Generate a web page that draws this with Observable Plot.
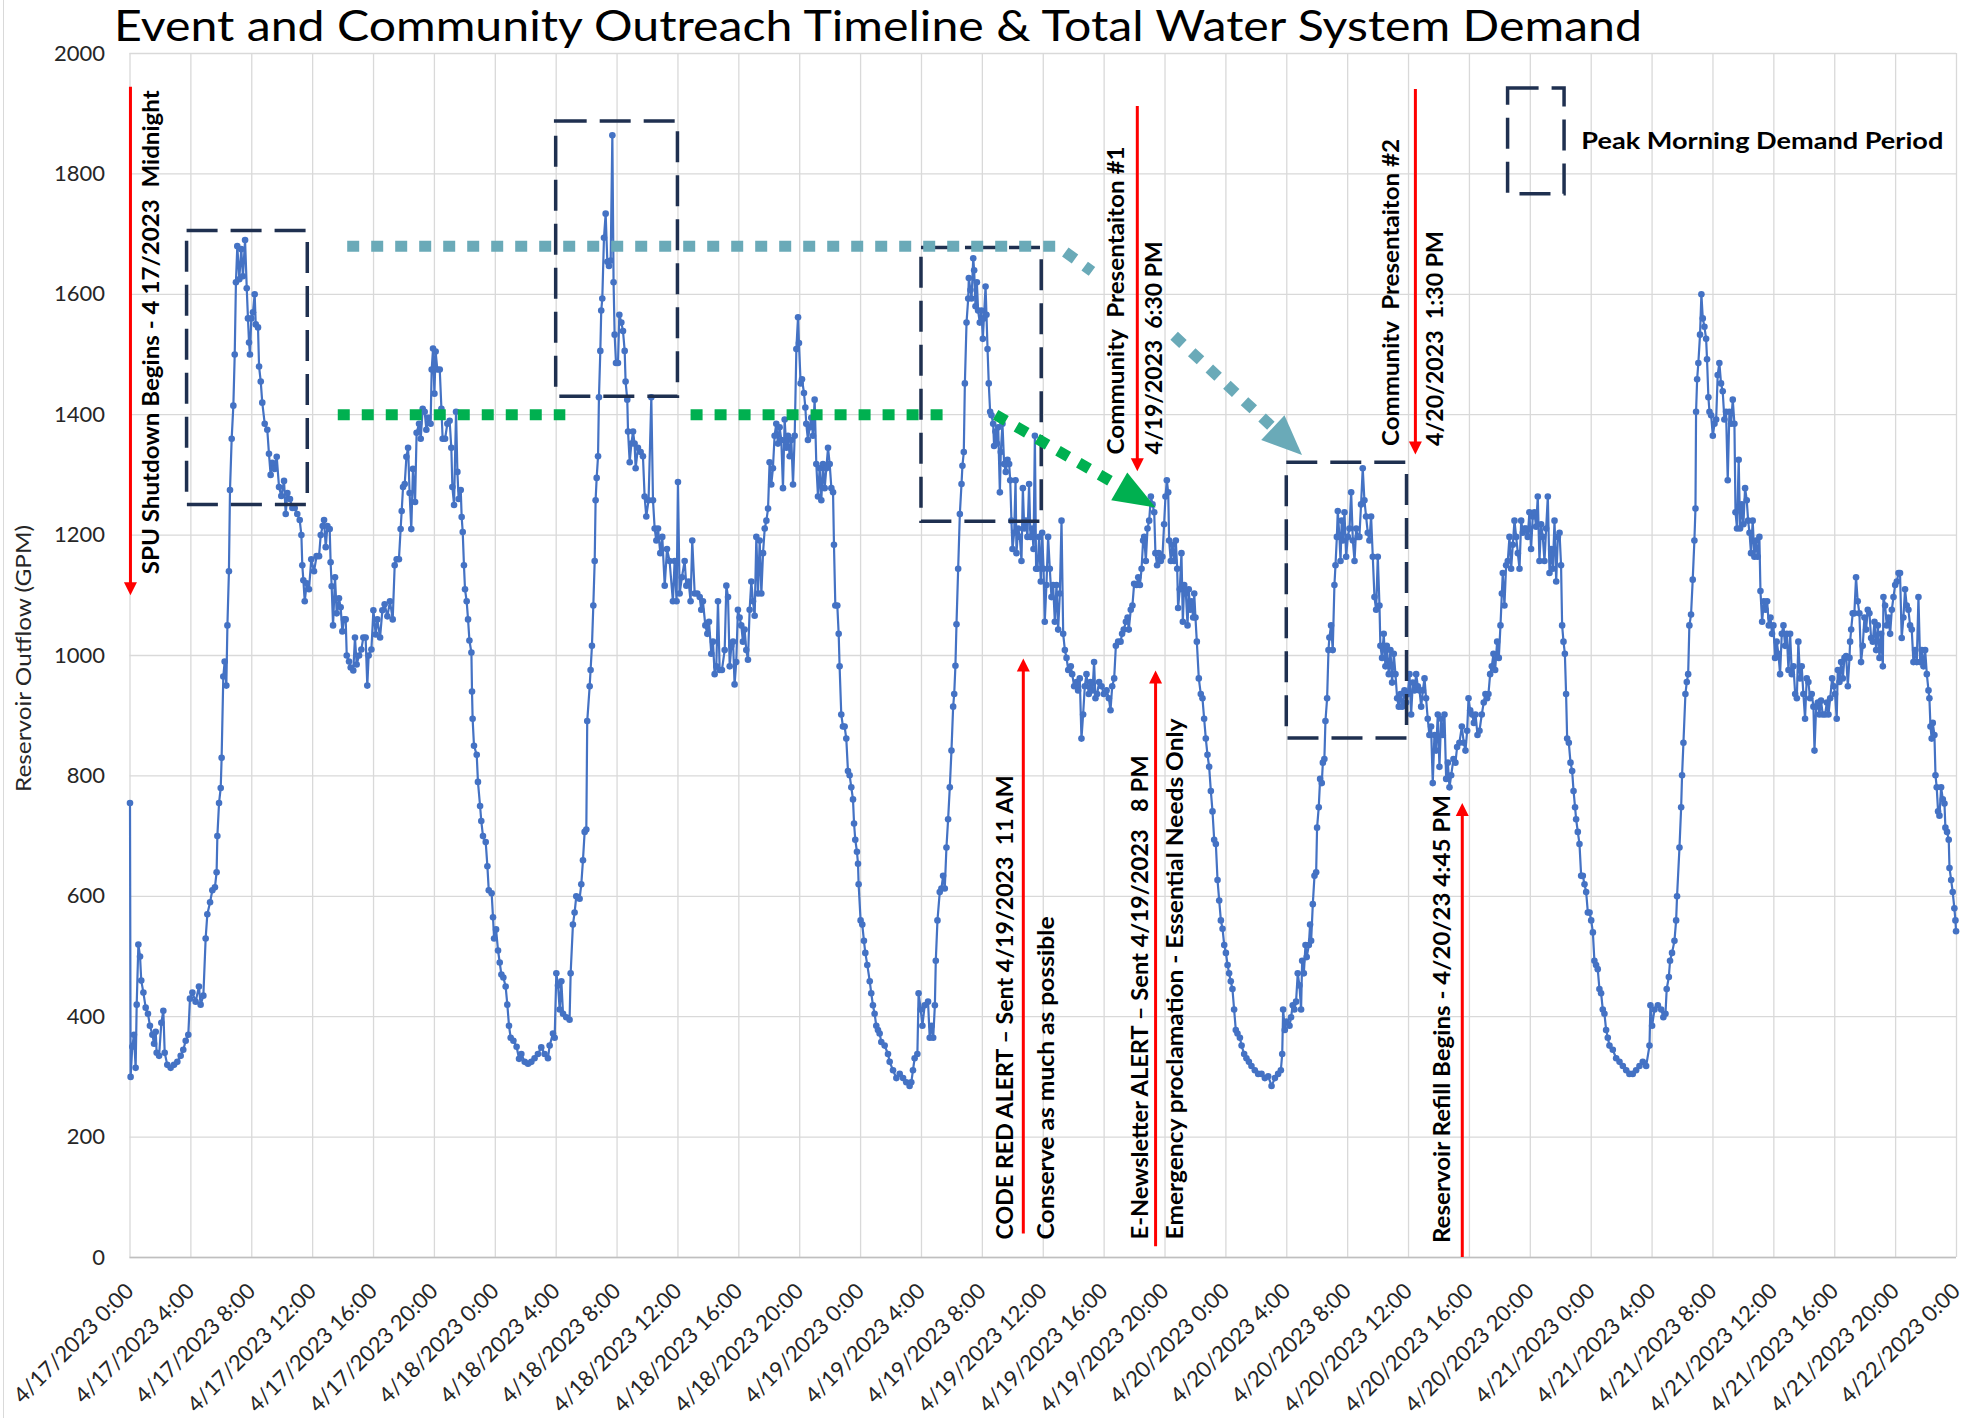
<!DOCTYPE html>
<html>
<head>
<meta charset="utf-8">
<script src="https://cdn.jsdelivr.net/npm/d3@7"></script>
<script src="https://cdn.jsdelivr.net/npm/@observablehq/plot@0.6"></script>
<style>
  body { margin: 0; background: #fff; }
  #wrap { position: relative; width: 1972px; height: 1418px; background: #fff; overflow: hidden; }
  #title { height: 52px; padding-left: 114px; font-family: Lato, sans-serif; font-size: 42px; line-height: 50.4px; white-space: nowrap; color: #000; }
  #title span { display: inline-block; transform-origin: 0 0; }
  #border { position: absolute; left: 3px; top: 0; width: 0; height: 1418px; border-left: 1px solid #d9d9d9; }
  svg text { white-space: pre; }
</style>
</head>
<body>
<div id="wrap">
  <div id="border"></div>
  <div id="title"><span>Event and Community Outreach Timeline &amp; Total Water System Demand</span></div>
</div>
<script>
// ---------- DATA (hours after 4/17/2023 0:00, reservoir outflow GPM) ----------
const apr17 = [[0.00,755],[0.04,300],[0.15,350],[0.26,370],[0.37,315],[0.44,420],[0.55,520],[0.66,500],[0.74,460],[0.88,440],[1.03,415],[1.18,405],[1.31,385],[1.47,370],[1.58,355],[1.69,375],[1.75,340],[1.91,335],[2.06,390],[2.19,410],[2.28,340],[2.45,320],[2.67,315],[2.89,320],[3.11,325],[3.33,335],[3.50,345],[3.66,360],[3.83,370],[3.94,430],[4.10,440],[4.31,425],[4.53,450],[4.64,420],[4.82,435],[4.97,530],[5.08,570],[5.26,590],[5.41,610],[5.58,615],[5.69,640],[5.74,700],[5.85,755],[5.96,780],[6.02,830],[6.13,965],[6.22,990],[6.33,950],[6.40,1050],[6.50,1140],[6.57,1275],[6.68,1360],[6.79,1415],[6.88,1500],[6.96,1620],[7.05,1680],[7.18,1625],[7.31,1675],[7.42,1630],[7.56,1690],[7.67,1610],[7.75,1560],[7.82,1520],[7.88,1500],[7.97,1560],[8.08,1570],[8.19,1600],[8.26,1550],[8.41,1545],[8.48,1480],[8.59,1455],[8.69,1420],[8.85,1385],[9.02,1375],[9.13,1335],[9.24,1300],[9.35,1320],[9.50,1310],[9.64,1330],[9.79,1280],[9.94,1265],[10.12,1290],[10.23,1235],[10.34,1270],[10.51,1260],[10.67,1245],[10.82,1245],[10.99,1235],[11.15,1225],[11.26,1200],[11.32,1150],[11.39,1125],[11.48,1090],[11.61,1120],[11.76,1110],[11.91,1160],[12.09,1140],[12.26,1165],[12.42,1165],[12.53,1200],[12.66,1215],[12.75,1225],[12.86,1180],[12.97,1215],[13.12,1210],[13.18,1155],[13.25,1115],[13.34,1050],[13.47,1130],[13.58,1070],[13.73,1095],[13.84,1080],[13.95,1040],[14.06,1060],[14.17,1060],[14.24,1000],[14.39,990],[14.50,980],[14.67,975],[14.78,1030],[14.89,985],[15.05,1000],[15.20,1010],[15.33,1030],[15.48,1030],[15.59,950],[15.68,1000],[15.86,1010],[15.99,1075],[16.14,1035],[16.25,1060],[16.43,1030],[16.58,1075],[16.73,1085],[16.91,1065],[17.08,1090],[17.26,1060],[17.39,1150],[17.52,1160],[17.67,1160],[17.78,1210],[17.85,1240],[17.94,1280],[18.05,1285],[18.16,1330],[18.27,1345],[18.37,1270],[18.48,1210],[18.59,1310],[18.73,1255],[18.83,1370],[18.99,1385],[19.10,1360],[19.23,1410],[19.36,1405],[19.47,1375],[19.60,1395],[19.75,1385],[19.82,1475],[19.91,1510],[20.00,1435],[20.08,1505],[20.19,1475],[20.35,1475],[20.46,1410],[20.54,1360],[20.70,1360],[20.85,1385],[21.00,1390],[21.11,1345],[21.18,1280],[21.29,1250],[21.42,1405],[21.51,1305],[21.59,1260],[21.73,1275],[21.79,1230],[21.86,1205],[21.94,1150],[22.01,1110],[22.12,1090],[22.21,1060],[22.30,1025],[22.43,1005],[22.47,940],[22.51,895],[22.60,850],[22.78,835],[22.86,790],[23.00,750],[23.08,725],[23.19,700],[23.37,690],[23.48,650],[23.57,610],[23.76,605],[23.85,565],[23.92,530],[24.05,545],[24.18,510],[24.29,490],[24.40,470],[24.53,465],[24.68,450],[24.79,420],[24.90,385],[25.01,365],[25.19,360],[25.40,350],[25.56,330]];

const apr18 = [[25.71,338],[25.93,325],[26.15,322],[26.37,325],[26.58,331],[26.80,338],[27.02,349],[27.24,338],[27.46,331],[27.57,352],[27.79,372],[27.90,365],[28.01,472],[28.12,452],[28.23,412],[28.34,459],[28.45,405],[28.66,399],[28.88,395],[28.95,472],[29.10,553],[29.21,573],[29.32,600],[29.54,596],[29.65,620],[29.76,660],[29.87,707],[29.98,711],[30.04,891],[30.20,949],[30.26,976],[30.35,1016],[30.44,1083],[30.53,1157],[30.59,1258],[30.66,1295],[30.75,1331],[30.81,1429],[30.90,1506],[30.96,1573],[31.03,1593],[31.14,1694],[31.25,1734],[31.36,1654],[31.47,1647],[31.58,1656],[31.69,1864],[31.77,1620],[31.84,1533],[31.93,1486],[32.06,1486],[32.15,1566],[32.28,1553],[32.39,1539],[32.50,1506],[32.56,1455],[32.67,1425],[32.72,1372],[32.83,1321],[32.94,1352],[33.05,1372],[33.15,1352],[33.22,1311],[33.37,1345],[33.55,1338],[33.70,1331],[33.81,1264],[33.92,1231],[34.07,1258],[34.25,1429],[34.36,1258],[34.47,1211],[34.58,1191],[34.69,1211],[34.84,1170],[34.97,1197],[35.13,1116],[35.28,1177],[35.45,1157],[35.67,1090],[35.78,1157],[35.91,1090],[36.00,1288],[36.11,1103],[36.26,1130],[36.44,1157],[36.55,1116],[36.70,1123],[36.83,1090],[36.94,1191],[37.10,1103],[37.27,1103],[37.43,1097],[37.53,1076],[37.64,1090],[37.80,1050],[37.93,1036],[38.04,1056],[38.19,1003],[38.30,1023],[38.41,969],[38.52,982],[38.63,1090],[38.74,976],[38.89,976],[39.07,1009],[39.18,1116],[39.29,1097],[39.40,982],[39.51,1016],[39.62,1023],[39.72,952],[39.83,989],[39.94,1076],[40.05,1063],[40.16,1050],[40.27,1023],[40.38,1043],[40.49,1009],[40.60,993],[40.71,1076],[40.82,1123],[40.93,1090],[41.04,1066],[41.15,1197],[41.26,1103],[41.37,1191],[41.48,1103],[41.59,1170],[41.70,1211],[41.81,1224],[41.92,1244],[42.02,1321],[42.13,1284],[42.24,1311],[42.35,1365],[42.46,1385],[42.57,1352],[42.68,1379],[42.79,1358],[42.90,1278],[43.01,1392],[43.12,1345],[43.23,1365],[43.34,1331],[43.45,1358],[43.56,1284],[43.67,1365],[43.78,1509],[43.89,1562],[43.95,1519],[44.06,1452],[44.15,1459],[44.28,1436],[44.37,1412],[44.43,1385],[44.54,1358],[44.65,1379],[44.76,1395],[44.87,1365],[44.98,1425],[45.09,1318],[45.20,1264],[45.31,1311],[45.42,1258],[45.53,1318],[45.64,1278],[45.75,1311],[45.86,1345],[45.97,1318],[46.08,1278],[46.19,1271],[46.25,1184],[46.34,1083],[46.47,1083],[46.56,1036],[46.62,982],[46.73,902],[46.84,882],[46.95,882],[47.06,862],[47.17,808],[47.28,801],[47.39,781],[47.50,761],[47.57,721],[47.65,694],[47.76,674],[47.83,654],[47.87,620],[48.00,560],[48.11,553],[48.22,526],[48.31,506],[48.44,486],[48.60,459],[48.70,439],[48.81,419],[48.92,405],[49.03,385],[49.14,378],[49.25,372],[49.36,358],[49.58,352],[49.80,338],[49.91,325],[50.13,311],[50.35,298],[50.57,305],[50.79,298],[51.00,291],[51.22,285],[51.33,291],[51.44,311],[51.55,331],[51.73,338],[51.81,439],[51.95,412],[52.06,385],[52.21,419],[52.43,425],[52.54,365]];

const apr19 = [[52.66,385],[52.77,365],[52.88,419],[52.94,493],[53.05,560],[53.20,607],[53.31,613],[53.42,634],[53.53,613],[53.64,681],[53.75,728],[53.86,781],[53.97,842],[54.08,915],[54.15,936],[54.23,983],[54.30,1052],[54.41,1144],[54.52,1235],[54.63,1285],[54.69,1315],[54.78,1338],[54.85,1452],[54.96,1553],[55.07,1593],[55.11,1627],[55.22,1607],[55.29,1593],[55.40,1660],[55.46,1640],[55.55,1580],[55.64,1620],[55.72,1573],[55.83,1553],[55.94,1573],[56.03,1526],[56.10,1560],[56.21,1613],[56.27,1566],[56.34,1509],[56.42,1452],[56.51,1405],[56.60,1399],[56.71,1385],[56.77,1348],[56.86,1372],[56.95,1352],[57.04,1379],[57.15,1271],[57.21,1338],[57.32,1385],[57.43,1318],[57.54,1305],[57.65,1325],[57.76,1318],[57.83,1291],[57.91,1224],[57.98,1177],[58.09,1204],[58.18,1291],[58.24,1170],[58.35,1211],[58.46,1197],[58.57,1157],[58.66,1278],[58.75,1211],[58.86,1224],[58.96,1197],[59.07,1285],[59.16,1197],[59.27,1211],[59.36,1177],[59.45,1365],[59.53,1144],[59.62,1144],[59.73,1197],[59.84,1123],[59.93,1204],[60.02,1144],[60.10,1056],[60.21,1117],[60.32,1197],[60.43,1144],[60.54,1097],[60.65,1117],[60.76,1056],[60.87,1117],[60.98,1043],[61.09,1103],[61.20,1224],[61.31,1036],[61.42,1009],[61.53,996],[61.64,976],[61.81,982],[61.90,969],[62.03,949],[62.18,956],[62.29,942],[62.40,962],[62.51,862],[62.62,902],[62.73,949],[62.84,969],[62.99,936],[63.10,956],[63.24,942],[63.34,989],[63.43,929],[63.54,936],[63.67,956],[63.83,949],[63.98,936],[64.16,942],[64.31,929],[64.42,909],[64.53,949],[64.66,962],[64.77,1016],[64.92,1023],[65.08,1023],[65.18,1036],[65.29,1043],[65.43,1056],[65.54,1063],[65.62,1043],[65.75,1076],[65.86,1083],[65.97,1119],[66.13,1117],[66.24,1130],[66.35,1117],[66.46,1144],[66.56,1191],[66.63,1197],[66.74,1157],[66.85,1211],[66.96,1224],[67.07,1264],[67.18,1251],[67.29,1238],[67.37,1170],[67.48,1150],[67.59,1170],[67.72,1157],[67.83,1164],[67.94,1218],[68.03,1264],[68.12,1291],[68.21,1271],[68.27,1191],[68.38,1157],[68.49,1184],[68.60,1157],[68.71,1191],[68.80,1144],[68.86,1079],[68.97,1110],[69.08,1170],[69.17,1056],[69.26,1117],[69.37,1103],[69.48,1050],[69.56,1110],[69.65,1076],[69.74,1090],[69.85,1063],[69.92,1103],[70.00,1063],[70.09,1023],[70.22,962],[70.35,936],[70.46,929],[70.57,895],[70.68,862],[70.79,835],[70.90,815],[71.01,775],[71.12,741],[71.23,694],[71.34,687],[71.45,627],[71.56,593],[71.67,560],[71.78,546],[71.89,519],[72.00,506],[72.11,486],[72.21,472],[72.32,459],[72.43,446],[72.54,412],[72.65,378],[72.76,372],[72.92,365],[73.03,352],[73.20,338],[73.35,331],[73.51,325],[73.68,318],[73.90,311],[74.12,305],[74.34,305],[74.56,298],[74.78,301],[75.00,285],[75.22,298],[75.43,305],[75.61,311],[75.70,338],[75.76,412],[75.87,378],[75.98,392]];

const apr20 = [[76.18,385],[76.28,399],[76.39,419],[76.50,412],[76.61,425],[76.72,472],[76.83,452],[76.94,412],[77.01,493],[77.12,472],[77.23,519],[77.31,499],[77.45,519],[77.53,553],[77.60,526],[77.71,587],[77.82,634],[77.93,640],[77.99,714],[78.10,748],[78.19,795],[78.30,788],[78.37,822],[78.47,828],[78.54,891],[78.65,929],[78.74,1009],[78.80,1030],[78.91,1050],[79.02,1009],[79.13,1117],[79.20,1150],[79.29,1197],[79.35,1240],[79.46,1197],[79.53,1157],[79.61,1224],[79.68,1191],[79.79,1238],[79.90,1164],[80.01,1197],[80.12,1211],[80.23,1271],[80.34,1191],[80.45,1157],[80.56,1211],[80.66,1197],[80.77,1197],[80.88,1251],[80.99,1311],[81.10,1258],[81.21,1231],[81.32,1204],[81.43,1191],[81.54,1231],[81.65,1164],[81.76,1097],[81.87,1076],[81.98,1164],[82.09,1083],[82.15,1016],[82.26,996],[82.37,1036],[82.48,982],[82.57,1016],[82.70,969],[82.81,1009],[82.92,955],[83.03,1003],[83.14,969],[83.25,929],[83.36,915],[83.47,936],[83.58,915],[83.73,942],[83.84,922],[83.95,936],[84.06,969],[84.17,902],[84.28,955],[84.39,942],[84.50,969],[84.61,949],[84.72,942],[84.83,915],[84.94,942],[85.05,962],[85.15,929],[85.26,895],[85.37,868],[85.48,882],[85.59,788],[85.70,868],[85.81,842],[85.92,902],[86.03,815],[86.14,895],[86.25,868],[86.36,902],[86.47,795],[86.58,822],[86.69,781],[86.80,801],[86.95,828],[87.08,822],[87.19,848],[87.34,855],[87.50,882],[87.63,855],[87.74,842],[87.85,875],[87.94,929],[88.05,909],[88.18,902],[88.29,888],[88.40,902],[88.53,868],[88.66,875],[88.81,902],[88.94,922],[89.05,936],[89.16,929],[89.25,936],[89.36,969],[89.47,982],[89.58,1003],[89.69,976],[89.82,1023],[89.93,996],[90.04,1050],[90.13,1103],[90.19,1137],[90.30,1083],[90.41,1150],[90.52,1157],[90.63,1197],[90.74,1144],[90.85,1184],[90.96,1224],[91.07,1197],[91.18,1170],[91.29,1144],[91.40,1224],[91.51,1204],[91.62,1211],[91.72,1211],[91.83,1197],[91.94,1238],[92.05,1177],[92.16,1231],[92.27,1238],[92.38,1214],[92.49,1264],[92.60,1157],[92.71,1218],[92.82,1197],[92.93,1157],[93.04,1211],[93.15,1264],[93.26,1137],[93.37,1177],[93.48,1144],[93.59,1224],[93.70,1123],[93.81,1197],[93.92,1204],[94.02,1150],[94.09,1050],[94.18,1023],[94.27,1003],[94.35,936],[94.42,862],[94.53,855],[94.64,822],[94.75,808],[94.84,775],[94.94,748],[95.01,728],[95.12,707],[95.23,687],[95.34,634],[95.45,634],[95.56,620],[95.67,607],[95.78,573],[95.89,573],[96.00,560],[96.11,540],[96.21,493],[96.32,486],[96.43,479],[96.54,446],[96.65,439],[96.76,412],[96.87,405],[96.98,378],[97.09,365],[97.20,352],[97.42,345],[97.64,331],[97.86,325],[98.08,318],[98.30,311],[98.51,305],[98.73,305],[98.95,311],[99.17,318],[99.39,325],[99.61,318],[99.83,352],[99.89,419],[100.00,385],[100.16,412],[100.38,419],[100.60,412]];

const apr21 = [[100.74,399],[100.88,405],[100.96,446],[101.10,466],[101.18,493],[101.31,506],[101.47,526],[101.58,560],[101.64,600],[101.80,681],[101.91,748],[101.97,801],[102.06,855],[102.19,936],[102.28,956],[102.37,969],[102.45,1050],[102.56,1068],[102.67,1126],[102.78,1191],[102.85,1244],[102.89,1405],[102.96,1459],[103.04,1486],[103.15,1533],[103.24,1600],[103.33,1560],[103.44,1546],[103.55,1526],[103.61,1492],[103.70,1429],[103.77,1405],[103.88,1399],[103.99,1365],[104.10,1385],[104.21,1392],[104.31,1466],[104.42,1486],[104.53,1452],[104.64,1439],[104.75,1392],[104.86,1405],[104.97,1291],[105.08,1405],[105.19,1385],[105.30,1425],[105.41,1385],[105.48,1238],[105.58,1211],[105.69,1325],[105.78,1211],[105.89,1251],[106.00,1218],[106.11,1278],[106.22,1258],[106.31,1224],[106.40,1204],[106.50,1170],[106.61,1224],[106.72,1164],[106.83,1191],[106.94,1164],[107.05,1197],[107.12,1107],[107.23,1056],[107.34,1090],[107.45,1076],[107.56,1090],[107.67,1050],[107.78,1063],[107.88,1036],[107.97,1050],[108.08,996],[108.19,1023],[108.30,1003],[108.41,969],[108.52,1036],[108.63,1050],[108.74,1016],[108.85,1036],[108.96,976],[109.07,1036],[109.18,969],[109.29,982],[109.40,936],[109.51,929],[109.61,1023],[109.72,962],[109.83,982],[109.94,936],[110.05,895],[110.16,962],[110.27,956],[110.38,929],[110.49,936],[110.60,915],[110.67,842],[110.78,915],[110.89,922],[110.99,902],[111.10,925],[111.21,902],[111.37,902],[111.48,922],[111.59,902],[111.70,929],[111.83,962],[111.94,949],[112.02,936],[112.13,895],[112.20,976],[112.31,956],[112.42,989],[112.53,962],[112.64,996],[112.75,999],[112.86,949],[112.97,996],[113.01,1023],[113.08,1043],[113.18,1070],[113.29,1070],[113.40,1130],[113.51,1090],[113.62,1070],[113.73,989],[113.84,1016],[113.95,1063],[114.06,1043],[114.17,1076],[114.28,1070],[114.39,1029],[114.50,1023],[114.61,1056],[114.72,1009],[114.83,1050],[114.94,996],[115.05,1036],[115.16,982],[115.20,1097],[115.31,1083],[115.42,1050],[115.53,1063],[115.64,1036],[115.75,1076],[115.86,1097],[115.97,1117],[116.08,1123],[116.19,1137],[116.29,1137],[116.40,1029],[116.51,1063],[116.62,1110],[116.73,1083],[116.84,1076],[116.95,1050],[117.06,1043],[117.17,989],[117.28,1009],[117.39,989],[117.50,1097],[117.61,989],[117.72,1009],[117.83,982],[117.94,1009],[118.05,969],[118.16,942],[118.22,929],[118.29,882],[118.37,862],[118.44,888],[118.55,868],[118.62,801],[118.70,781],[118.79,741],[118.88,734],[118.99,781],[119.10,761],[119.21,754],[119.27,714],[119.38,707],[119.49,694],[119.54,647],[119.65,627],[119.75,607],[119.86,580],[119.93,560],[119.97,542]];

const tickLabels = ["4/17/2023 0:00","4/17/2023 4:00","4/17/2023 8:00","4/17/2023 12:00","4/17/2023 16:00","4/17/2023 20:00",
  "4/18/2023 0:00","4/18/2023 4:00","4/18/2023 8:00","4/18/2023 12:00","4/18/2023 16:00","4/18/2023 20:00",
  "4/19/2023 0:00","4/19/2023 4:00","4/19/2023 8:00","4/19/2023 12:00","4/19/2023 16:00","4/19/2023 20:00",
  "4/20/2023 0:00","4/20/2023 4:00","4/20/2023 8:00","4/20/2023 12:00","4/20/2023 16:00","4/20/2023 20:00",
  "4/21/2023 0:00","4/21/2023 4:00","4/21/2023 8:00","4/21/2023 12:00","4/21/2023 16:00","4/21/2023 20:00",
  "4/22/2023 0:00"];
const yTicks = [0, 200, 400, 600, 800, 1000, 1200, 1400, 1600, 1800, 2000];

// Peak morning demand boxes (hours, GPM)
const peakStart = [3.75, 28.0, 52.0, 76.0];
const peakEnd   = [11.68, 36.0, 59.9, 83.9];
const peakLow   = [1250, 1430, 1222, 862];
const peakHigh  = [1705, 1887, 1677, 1320];
const legendBox = [90.54, 94.25, 1766, 1942];
const legendLabel = "Peak Morning Demand Period";

// Guide lines [run, hour, GPM]
const greenGuide = [["a",13.65,1400],["a",28.6,1400],["b",36.83,1400],["b",53.4,1400],["c",56.87,1400],["c",65.1,1280]];
const greenTip = [67.38, 1246];
const tealGuide = [["a",14.27,1680],["a",60.92,1680],["a",63.2,1638],["b",68.6,1531],["b",75.2,1376]];
const tealTip = [77.0, 1333];

// Red event arrows
const arrowHour = [0.03, 66.18, 84.45, 58.69, 67.38, 87.53];
const arrowTail = [1944, 1912, 1940, 39, 18, 0];
const arrowTip  = [1100, 1306, 1334, 995, 975, 755];

// Event notes
const noteText = ["SPU Shutdown Begins - 4 17/2023  Midnight","Community  Presentaiton #1","4/19/2023  6:30 PM",
  "CODE RED ALERT \u2013 Sent 4/19/2023  11 AM","Conserve as much as possible","E-Newsletter ALERT \u2013 Sent 4/19/2023   8 PM",
  "Emergency proclamation - Essential Needs Only","Communitv  Presentaiton #2","4/20/2023  1:30 PM",
  "Reservoir Refill Begins - 4/20/23 4:45 PM"];
const noteHour = [1.40, 64.85, 67.33, 57.52, 60.2, 66.42, 68.7, 82.9, 85.8, 86.27];
const noteGpm  = [1135, 1334, 1334, 30, 30, 30, 30, 1348, 1348, 24];

// ---------- BUILD ----------
const T0 = Date.UTC(2023, 3, 17);
const toDate = h => new Date(T0 + h * 3600000);
const parseLabel = s => {
  const [d, tm] = s.split(" ");
  const [mo, da, yr] = d.split("/").map(Number);
  const [hh, mm] = tm.split(":").map(Number);
  return new Date(Date.UTC(yr, mo - 1, da, hh, mm));
};
const tickDates = tickLabels.map(parseLabel);
const labelOf = new Map(tickLabels.map((s, i) => [tickDates[i].getTime(), s]));

const series = [apr17, apr18, apr19, apr20, apr21].flat().map(([h, v]) => ({t: toDate(h), v}));
const boxes = peakStart.map((s, i) => ({x1: toDate(s), x2: toDate(peakEnd[i]), y1: peakLow[i], y2: peakHigh[i]}));
boxes.push({x1: toDate(legendBox[0]), x2: toDate(legendBox[1]), y1: legendBox[2], y2: legendBox[3]});
const guideRows = g => g.map(([run, h, v]) => ({run, t: toDate(h), v}));
const arrows = arrowHour.map((h, i) => ({t: toDate(h), tail: arrowTail[i], tip: arrowTip[i], down: arrowTip[i] < arrowTail[i]}));
const notes = noteText.map((text, i) => ({text, t: toDate(noteHour[i]), v: noteGpm[i]}));

const navy = "#1F3050", teal = "#6AAAB8", green = "#00B050", red = "#FF0000", blue = "#4472C4";

// triangle head symbol with its tip at the anchor point, pointing at angle (deg, screen)
function headSymbol(angleDeg, len, half) {
  const a = angleDeg * Math.PI / 180, c = Math.cos(a), s = Math.sin(a);
  return {draw(ctx) {
    const bx = -len * c, by = -len * s;
    ctx.moveTo(0, 0);
    ctx.lineTo(bx - half * s, by + half * c);
    ctx.lineTo(bx + half * s, by - half * c);
    ctx.closePath();
  }};
}

const chart = Plot.plot({
  width: 1972, height: 1366,
  marginTop: 1, marginBottom: 161, marginLeft: 129.5, marginRight: 16,
  style: {fontFamily: "Lato, sans-serif", background: "#fff", color: "#262626", overflow: "visible"},
  x: {type: "utc", domain: [toDate(0), toDate(120)]},
  y: {domain: [0, 2000]},
  marks: [
    Plot.gridY({ticks: yTicks, stroke: "#d9d9d9", strokeOpacity: 1, strokeWidth: 1.3}),
    Plot.gridX({ticks: tickDates, stroke: "#d9d9d9", strokeOpacity: 1, strokeWidth: 1.3}),
    Plot.ruleY([0], {stroke: "#bfbfbf", strokeWidth: 1.5}),
    Plot.axisY({ticks: yTicks, tickFormat: d => String(d), tickSize: 0, tickPadding: 25, fontSize: 22, label: null}),
    Plot.axisX({ticks: tickDates, tickFormat: d => labelOf.get(d.getTime()), tickRotate: -45, tickSize: 0,
      tickPadding: 30, fontSize: 22, label: null, lineAnchor: "middle", textAnchor: "end"}),
    Plot.text(["Reservoir Outflow (GPM)"], {y: () => 995, frameAnchor: "left", dx: -105.5, rotate: -90,
      textAnchor: "middle", lineAnchor: "middle", fontSize: 21, fill: "#262626"}),
    Plot.line(series, {x: "t", y: "v", stroke: blue, strokeWidth: 2.2}),
    Plot.dot(series, {x: "t", y: "v", r: 3.3, fill: blue, stroke: "none"}),
    Plot.rect(boxes, {x1: "x1", x2: "x2", y1: "y1", y2: "y2", fill: "none", stroke: navy, strokeWidth: 3.5, strokeDasharray: "31,13"}),
    Plot.line(guideRows(greenGuide), {x: "t", y: "v", z: "run", stroke: green, strokeWidth: 11, strokeDasharray: "12,12", strokeLinecap: "butt", strokeLinejoin: "miter"}),
    Plot.line(guideRows(tealGuide), {x: "t", y: "v", z: "run", stroke: teal, strokeWidth: 11, strokeDasharray: "12,12", strokeLinecap: "butt", strokeLinejoin: "miter"}),
    Plot.dot([greenTip], {x: d => toDate(d[0]), y: d => d[1], symbol: headSymbol(30.1, 42, 16), fill: green, stroke: "none"}),
    Plot.dot([tealTip], {x: d => toDate(d[0]), y: d => d[1], symbol: headSymbol(43.2, 40, 17), fill: teal, stroke: "none"}),
    Plot.ruleX(arrows, {x: "t", y1: "tail", y2: d => d.down ? d.tip + 18 : d.tip - 18, stroke: red, strokeWidth: 3}),
    Plot.dot(arrows.filter(d => d.down), {x: "t", y: "tip", symbol: headSymbol(90, 13, 6.5), fill: red, stroke: "none"}),
    Plot.dot(arrows.filter(d => !d.down), {x: "t", y: "tip", symbol: headSymbol(-90, 13, 6.5), fill: red, stroke: "none"}),
    Plot.text(notes, {x: "t", y: "v", text: "text", rotate: -90, textAnchor: "start", lineAnchor: "middle",
      fontWeight: "bold", fontSize: 23, fill: "#000"}),
    Plot.text([legendLabel], {x: () => toDate(95.35), y: () => 1853, text: d => d, textAnchor: "start", lineAnchor: "middle",
      fontWeight: "bold", fontSize: 23, fill: "#000"})
  ]
});

// fit annotation text lengths to the reference
const fitLengths = new Map([
  [noteText[0], 484], [noteText[1], 308], [noteText[2], 213], [noteText[3], 464], [noteText[4], 323],
  [noteText[5], 484], [noteText[6], 521], [noteText[7], 307], [noteText[8], 215], [noteText[9], 448],
  [legendLabel, 362], ["Reservoir Outflow (GPM)", 267]
]);
chart.querySelectorAll("text").forEach(el => {
  const L = fitLengths.get(el.textContent);
  if (L) { el.setAttribute("textLength", L); el.setAttribute("lengthAdjust", "spacingAndGlyphs"); }
});

document.getElementById("wrap").appendChild(chart);

function fitTitle() {
  const s = document.querySelector("#title span");
  s.style.transform = "none";
  const w = s.getBoundingClientRect().width;
  if (w > 0) s.style.transform = `scaleX(${1528 / w})`;
}
fitTitle();
if (document.fonts) document.fonts.ready.then(fitTitle);
</script>
</body>
</html>
